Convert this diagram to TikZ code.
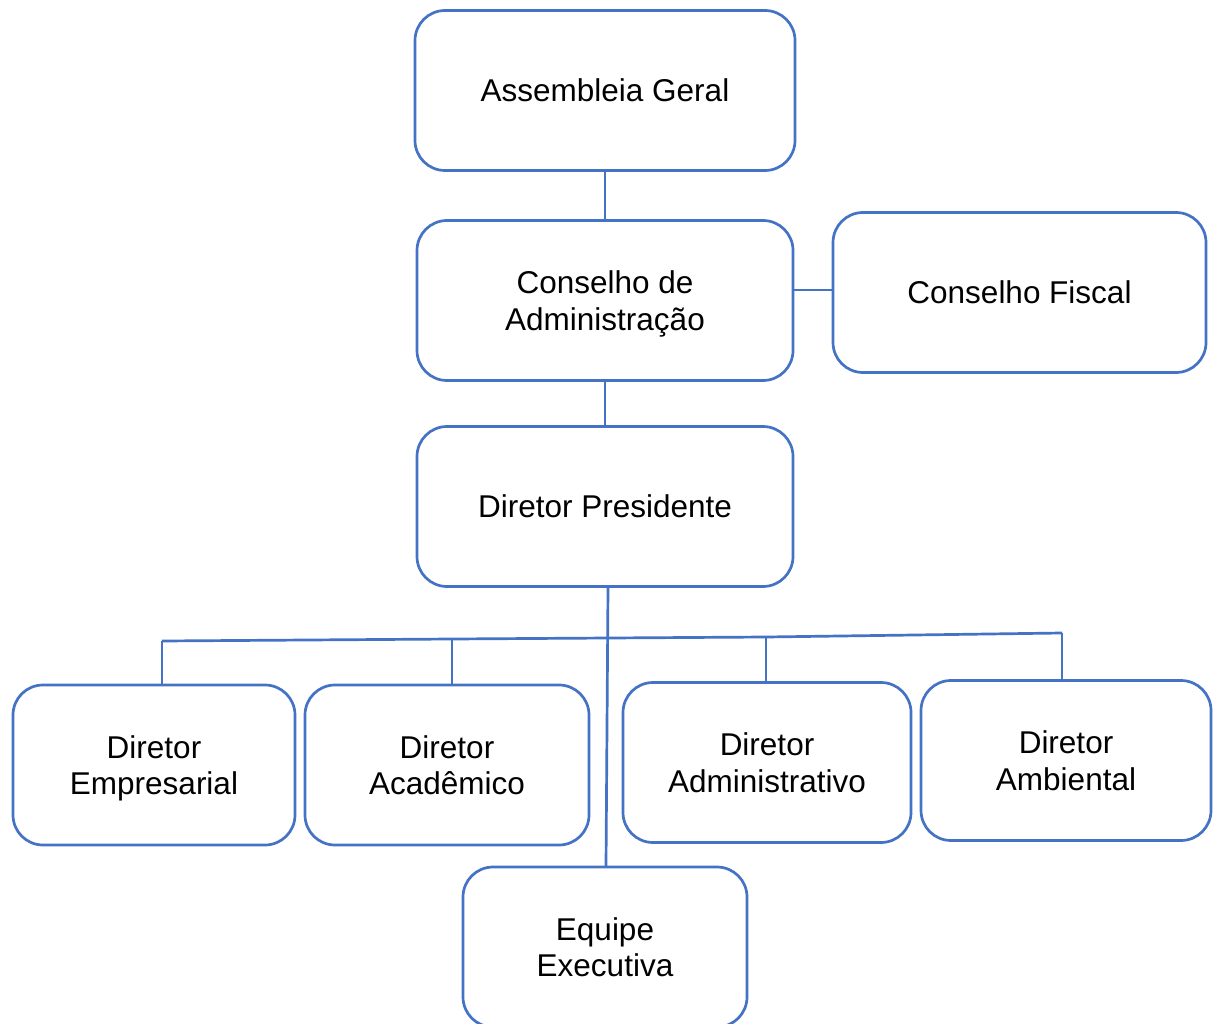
\documentclass[tikz,border=0pt]{standalone}
\usepackage{fontspec}
\setmainfont{Liberation Sans}
\usetikzlibrary{calc}
\definecolor{orgblue}{HTML}{4472C4}
\tikzset{
  orgbox/.style={draw=orgblue, line width=2.7pt, rounded corners=30pt, fill=white,
    align=center, inner sep=0pt, minimum height=160pt,
    font=\fontsize{31.5}{36.5}\selectfont},
  link/.style={draw=orgblue, line width=2.7pt}
}
\begin{document}
\begin{tikzpicture}[x=1pt,y=-1pt]
\useasboundingbox (0,0) rectangle (1214,1024);

% governance levels
\node[orgbox, minimum width=380pt] (ag)   at (605,90.5)   {Assembleia Geral};
\node[orgbox, minimum width=376pt] (cadm) at (605,300.5)  {Conselho de\\\smash{Administração}};
\node[orgbox, minimum width=373pt] (cfis) at (1019.5,292.5) {Conselho Fiscal};
\node[orgbox, minimum width=376pt] (pres) at (605,506.5)  {Diretor Presidente};

% directors
\node[orgbox, minimum width=282pt] (emp)  at (154,765)    {Diretor\\\smash{Empresarial}};
\node[orgbox, minimum width=284pt] (acad) at (447,765)    {Diretor\\Acadêmico};
\node[orgbox, minimum width=288pt] (adm)  at (767,762.5)  {Diretor\\Administrativo};
\node[orgbox, minimum width=290pt] (amb)  at (1066,760.5) {Diretor\\Ambiental};

% executive team
\node[orgbox, minimum width=284pt] (eqp)  at (605,947)    {Equipe\\Executiva};

% junction points
\coordinate (fl) at (794,290);
\coordinate (fr) at (832,290);
\coordinate (j1) at (162,641);
\coordinate (j2) at (452,639);
\coordinate (j3) at (766,637);
\coordinate (j4) at (1062,633);
\coordinate (ptop) at (608,587);
\coordinate (pbot) at (606,866);

% connectors
\draw[link] (ag.south) -- (cadm.north);
\draw[link] (cadm.south) -- (pres.north);
\draw[link] (fl) -- (fr);
\draw[link] (ptop) -- (pbot);
\draw[link] (j1) -- (j2) -- (j3) -- (j4);
\draw[link] (j1) -- (j1 |- emp.north);
\draw[link] (j2) -- (j2 |- acad.north);
\draw[link] (j3) -- (j3 |- adm.north);
\draw[link] (j4) -- (j4 |- amb.north);
\end{tikzpicture}
\end{document}
